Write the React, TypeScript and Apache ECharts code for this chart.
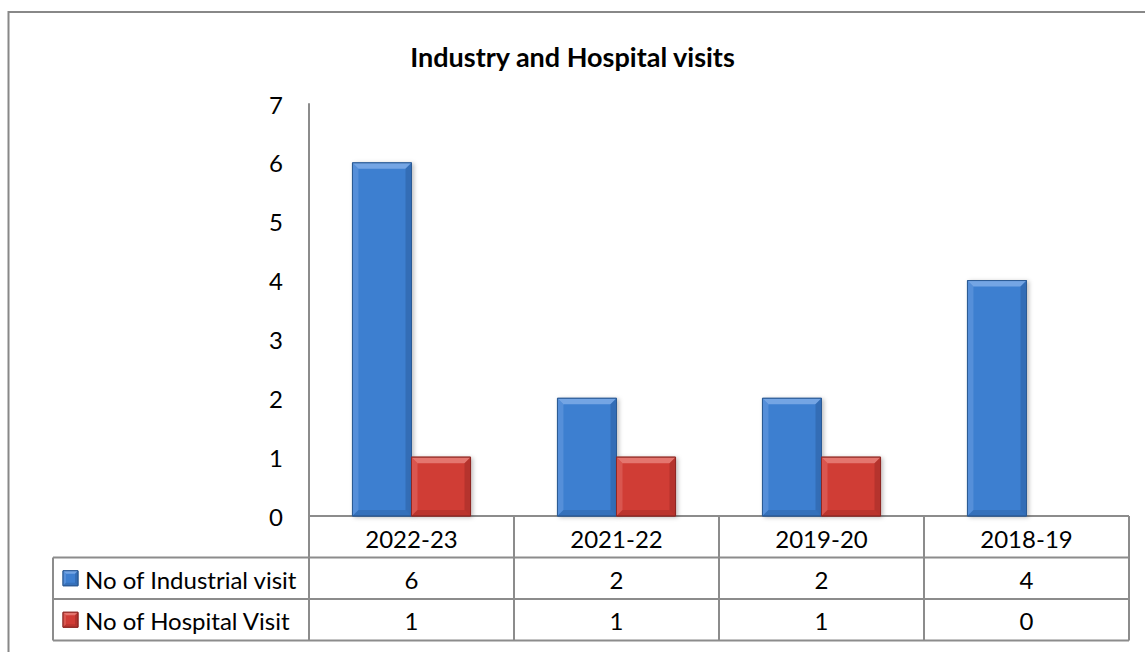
import React, { useEffect, useRef } from "react";
import * as echarts from "echarts";

const title = "Industry and Hospital visits";
const categories = ["2022-23", "2021-22", "2019-20", "2018-19"];
const seriesNames = ["No of Industrial visit", "No of Hospital Visit"];
const industrialVisits = [6, 2, 2, 4];
const hospitalVisits = [1, 1, 1, 0];
const yTicks = { min: 0, max: 7, interval: 1 };

const FONT = "Lato, 'Open Sans', sans-serif";
const palette = [
  { main: "#3e7fd0", light: "#74a5e4", dark: "#2a5c9c", edge: "#2b5a94" },
  { main: "#d03c36", light: "#e4766f", dark: "#9a2a26", edge: "#8e2824" },
];

function bevel(x: number, y: number, w: number, h: number, c: any, b: number, shadow = true) {
  const bb = Math.min(b, w / 2, h / 2);
  return [
    {
      type: "rect",
      shape: { x, y, width: w, height: h },
      style: {
        fill: c.main,
        stroke: c.edge,
        lineWidth: 1,
        shadowBlur: shadow ? 4 : 0,
        shadowOffsetX: shadow ? 2 : 0,
        shadowOffsetY: shadow ? 1 : 0,
        shadowColor: "rgba(0,0,0,0.25)",
      },
    },
    {
      type: "polygon",
      shape: { points: [[x, y], [x + w, y], [x + w - bb, y + bb], [x + bb, y + bb]] },
      style: { fill: c.light },
    },
    {
      type: "polygon",
      shape: { points: [[x, y], [x + bb, y + bb], [x + bb, y + h - bb], [x, y + h]] },
      style: { fill: c.light, opacity: 0.45 },
    },
    {
      type: "polygon",
      shape: { points: [[x + w, y], [x + w, y + h], [x + w - bb, y + h - bb], [x + w - bb, y + bb]] },
      style: { fill: c.dark, opacity: 0.5 },
    },
    {
      type: "polygon",
      shape: { points: [[x, y + h], [x + w, y + h], [x + w - bb, y + h - bb], [x + bb, y + h - bb]] },
      style: { fill: c.dark, opacity: 0.4 },
    },
    {
      type: "rect",
      shape: { x, y, width: w, height: h },
      style: { fill: "none", stroke: c.edge, lineWidth: 1 },
    },
  ];
}

export default function App() {
  const ref = useRef<HTMLDivElement>(null);
  useEffect(() => {
    document.body.style.margin = "0";
    const chart = echarts.init(ref.current!, null, { renderer: "svg" });
    const W = 1145;
    const gridLeft = 309;
    const gridRight = 16;
    const gridTop = 104;
    const gridBottom = 136;
    const axisY = 652 - gridBottom; // 516
    const tableLeft = 53;
    const tableRight = W - gridRight; // 1129
    const rowH = 41.5;
    const r1 = axisY + rowH;
    const r2 = r1 + rowH;
    const r3 = r2 + rowH;
    const colW = (tableRight - gridLeft) / categories.length;
    const lineColor = "#8c8c8c";
    const seriesData = [industrialVisits, hospitalVisits];
    const fs = 24;

    const graphics: any[] = [];
    graphics.push({
      type: "rect",
      shape: { x: 8.5, y: 12, width: 2000, height: 2000 },
      style: { fill: "none", stroke: "#888", lineWidth: 2 },
      silent: true,
    });
    const hl = (x1: number, x2: number, y: number) =>
      graphics.push({ type: "line", shape: { x1, y1: y, x2, y2: y }, style: { stroke: lineColor, lineWidth: 2 } });
    const vl = (x: number, y1: number, y2: number) =>
      graphics.push({ type: "line", shape: { x1: x, y1, x2: x, y2 }, style: { stroke: lineColor, lineWidth: 2 } });
    hl(gridLeft, tableRight, axisY);
    hl(tableLeft, tableRight, r1);
    hl(tableLeft, tableRight, r2);
    hl(tableLeft, tableRight, r3);
    vl(tableLeft, r1, r3);
    for (let i = 0; i <= categories.length; i++) vl(gridLeft + colW * i, axisY, r3);

    const rowsY = [r1, r2];
    seriesNames.forEach((name, s) => {
      const cy = rowsY[s] + rowH / 2;
      graphics.push({ type: "group", children: bevel(63, cy - 7.5, 15, 15, palette[s], 3, false) });
      graphics.push({
        type: "text",
        x: 85,
        y: cy + 1,
        style: { text: name, font: `${fs}px ${FONT}`, fill: "#000", verticalAlign: "middle", align: "left" },
      });
      seriesData[s].forEach((v, i) => {
        graphics.push({
          type: "text",
          x: gridLeft + colW * (i + 0.5),
          y: cy + 1,
          style: { text: String(v), font: `${fs}px ${FONT}`, fill: "#000", verticalAlign: "middle", align: "center" },
        });
      });
    });

    const makeSeries = (s: number) => ({
      type: "custom",
      name: seriesNames[s],
      data: seriesData[s].map((v, i) => [i, v]),
      encode: { x: 0, y: 1 },
      renderItem: (params: any, api: any) => {
        const idx = api.value(0);
        const val = api.value(1);
        if (!val) return null;
        const base = api.coord([idx, 0]);
        const top = api.coord([idx, val]);
        const band = api.size([1, 0])[0];
        const w = band * 0.288;
        const x = base[0] - w + s * w;
        return {
          type: "group",
          children: bevel(x, top[1], w, base[1] - top[1], palette[s], 6),
        };
      },
    });

    chart.setOption({
      animation: false,
      title: {
        text: title,
        left: "center",
        top: 38,
        textStyle: { fontFamily: FONT, fontWeight: "bold", fontSize: 27, color: "#000" },
      },
      grid: { left: gridLeft, right: gridRight, top: gridTop, bottom: gridBottom },
      xAxis: {
        type: "category",
        data: categories,
        axisLine: { show: false },
        axisTick: { show: false },
        axisLabel: { margin: 10, fontFamily: FONT, fontSize: fs, color: "#000" },
      },
      yAxis: {
        type: "value",
        min: yTicks.min,
        max: yTicks.max,
        interval: yTicks.interval,
        axisLine: { show: true, lineStyle: { color: lineColor, width: 2 } },
        axisTick: { show: false },
        splitLine: { show: false },
        axisLabel: { margin: 26, fontFamily: FONT, fontSize: fs, color: "#000" },
      },
      series: [makeSeries(0), makeSeries(1)],
      graphic: graphics,
    });
    return () => chart.dispose();
  }, []);
  return <div ref={ref} style={{ width: 1145, height: 652 }} />;
}
